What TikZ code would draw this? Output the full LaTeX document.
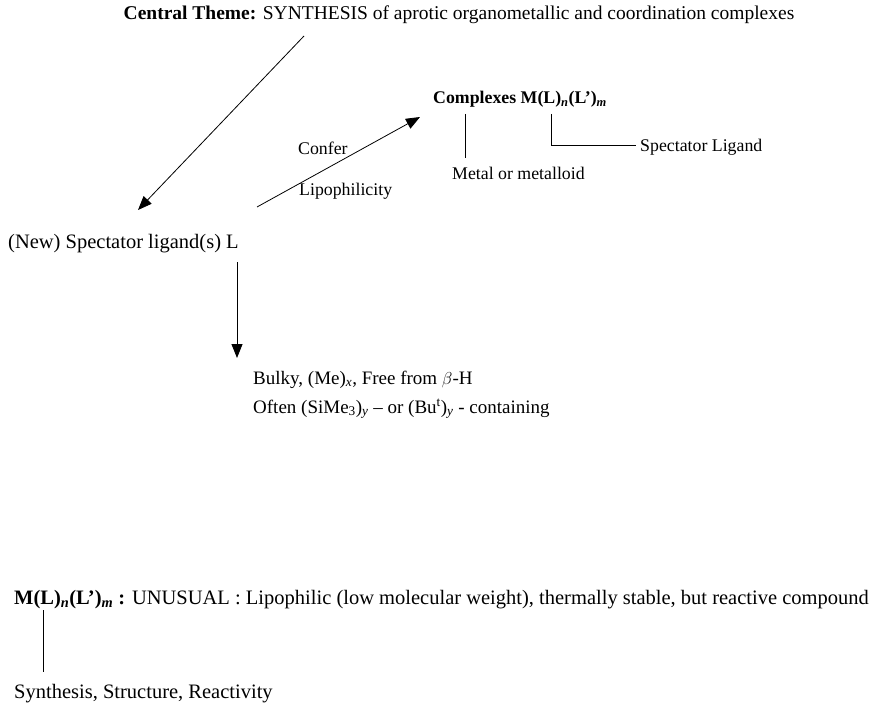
\documentclass[tikz,border=0pt]{standalone}
\usepackage{fontspec}
\setmainfont{Liberation Serif}
\usetikzlibrary{arrows.meta,positioning}
\tikzset{
  txt/.style={anchor=base west, inner sep=0pt, font=\fontsize{20.5}{22}\selectfont},
  mid/.style={txt, font=\fontsize{19}{21}\selectfont},
  small/.style={txt, font=\fontsize{17.8}{20}\selectfont},
  conn/.style={line width=0.8pt},
  arr/.style={conn, -{Triangle[length=14pt,width=11pt]}}
}
\newcommand{\sub}[1]{\textsubscript{\textit{#1}}}
\begin{document}
\begin{tikzpicture}[x=1pt,y=-1pt]
\useasboundingbox (0,0) rectangle (888,703);
% Central theme on top
\node[txt, anchor=base, font=\fontsize{19.5}{21}\selectfont] (theme) at (459,20) {\textbf{Central Theme:} SYNTHESIS of aprotic organometallic and coordination complexes};
\node[txt] (newlig) at (8,249) {(New) Spectator ligand(s) L};
% the complex and its parts
\node[small] (cplx) at (433,104) {\textbf{Complexes M(L)\sub{n}(L')\sub{m}}};
\node[small] (metal) at (452,180) {Metal or metalloid};
\node[small] (specl) at (640,152) {Spectator Ligand};
\node[small] (confer) at (298,155) {Confer};
\node[small] (lipo) at (299,196) {Lipophilicity};
\node[mid] (bulky) at (253,384) {Bulky, (Me)\sub{x}, Free from $\beta$-H};
\node[mid] (often) at (253,413) {Often (SiMe\textsubscript{3})\sub{y} -- or (Bu\textsuperscript{t})\sub{y} - containing};
\node[txt] (unusual) at (14,604) {\textbf{M(L)\sub{n}(L')\sub{m} :} UNUSUAL : Lipophilic (low molecular weight), thermally stable, but reactive compound};
\node[txt] (ssr) at (14,698) {Synthesis, Structure, Reactivity};
% free ends of the connectors
\coordinate (t1) at (304,36);
\coordinate (t2) at (138,210);
\coordinate (c1) at (257,207);
\coordinate (c2) at (420,117);
\coordinate (l1) at (237,262);
\coordinate (l2) at (237,358);
\coordinate (m1) at (465,114);
\coordinate (m2) at (465,158);
\coordinate (s1) at (551,114);
\coordinate (s2) at (551,145);
\coordinate (s3) at (636,145);
\coordinate (u1) at (43,610);
\coordinate (u2) at (43,672);
\draw[arr] (t1) -- (t2);
\draw[arr] (c1) -- (c2);
\draw[arr] (l1) -- (l2);
\draw[conn] (m1) -- (m2);
\draw[conn] (s1) -- (s2) -- (s3);
\draw[conn] (u1) -- (u2);
\end{tikzpicture}
\end{document}
